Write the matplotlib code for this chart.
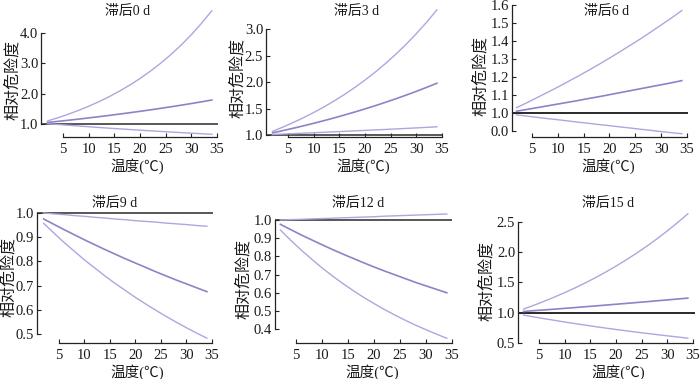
import matplotlib
matplotlib.use('Agg')
import matplotlib.pyplot as plt

plt.rcParams['font.family'] = ['Liberation Serif', 'Noto Sans CJK SC']

# ---- data ----
temp = [2, 4, 6, 8, 10, 12, 14, 16, 18, 20, 22, 24, 26, 28, 30, 32, 34]
titles = ['滞后0 d', '滞后3 d', '滞后6 d', '滞后9 d', '滞后12 d', '滞后15 d']
xlabel = '温度(℃)'
ylabel = '相对危险度'
xticks = [5, 10, 15, 20, 25, 30, 35]

lag0_hi = [1.10, 1.205, 1.320, 1.446, 1.584, 1.736, 1.901, 2.083, 2.282,
           2.500, 2.739, 3.000, 3.287, 3.601, 3.945, 4.322, 4.735]
lag0_rr = [1.05, 1.086, 1.122, 1.160, 1.200, 1.240, 1.282, 1.326, 1.371,
           1.417, 1.465, 1.515, 1.566, 1.619, 1.674, 1.731, 1.79]
lag0_lo = [1.01, 0.984, 0.958, 0.933, 0.908, 0.884, 0.861, 0.839, 0.817,
           0.795, 0.774, 0.754, 0.734, 0.715, 0.696, 0.678, 0.660]

lag3_hi = [1.07, 1.149, 1.235, 1.326, 1.425, 1.530, 1.644, 1.766, 1.897,
           2.038, 2.189, 2.351, 2.526, 2.713, 2.915, 3.131, 3.363]
lag3_rr = [1.04, 1.083, 1.127, 1.173, 1.221, 1.271, 1.323, 1.378, 1.434,
           1.493, 1.554, 1.618, 1.684, 1.753, 1.825, 1.900, 1.978]
lag3_lo = [1.010, 1.018, 1.026, 1.034, 1.043, 1.051, 1.060, 1.069, 1.078,
           1.087, 1.096, 1.105, 1.114, 1.124, 1.134, 1.144, 1.155]

lag6_hi = [1.03, 1.057, 1.086, 1.115, 1.144, 1.175, 1.206, 1.238, 1.271,
           1.305, 1.340, 1.376, 1.412, 1.450, 1.489, 1.528, 1.569]
lag6_rr = [1.01, 1.020, 1.030, 1.040, 1.050, 1.060, 1.070, 1.081, 1.091,
           1.102, 1.113, 1.124, 1.135, 1.146, 1.157, 1.168, 1.18]
lag6_lo = [0.99, 0.983, 0.976, 0.969, 0.963, 0.956, 0.949, 0.943, 0.936,
           0.930, 0.923, 0.917, 0.910, 0.904, 0.897, 0.891, 0.885]

lag9_hi = [1.000, 0.996, 0.993, 0.989, 0.986, 0.982, 0.979, 0.975, 0.972,
           0.968, 0.965, 0.962, 0.958, 0.955, 0.952, 0.948, 0.945]
lag9_rr = [0.975, 0.953, 0.931, 0.910, 0.889, 0.869, 0.849, 0.830, 0.811,
           0.793, 0.775, 0.757, 0.740, 0.723, 0.707, 0.691, 0.675]
lag9_lo = [0.957, 0.917, 0.878, 0.842, 0.806, 0.773, 0.740, 0.709, 0.680,
           0.651, 0.624, 0.598, 0.573, 0.549, 0.526, 0.504, 0.483]

lag12_hi = [1.000, 1.002, 1.004, 1.006, 1.008, 1.010, 1.012, 1.014, 1.016,
            1.018, 1.021, 1.023, 1.025, 1.027, 1.029, 1.031, 1.033]
lag12_rr = [0.976, 0.947, 0.918, 0.891, 0.864, 0.838, 0.813, 0.789, 0.765,
            0.742, 0.720, 0.699, 0.678, 0.657, 0.638, 0.619, 0.600]
lag12_lo = [0.945, 0.888, 0.835, 0.785, 0.737, 0.693, 0.651, 0.612, 0.575,
            0.541, 0.508, 0.478, 0.449, 0.422, 0.397, 0.373, 0.350]

lag15_hi = [1.06, 1.122, 1.188, 1.257, 1.330, 1.408, 1.490, 1.577, 1.670,
            1.767, 1.871, 1.980, 2.096, 2.218, 2.348, 2.485, 2.630]
lag15_rr = [1.02, 1.033, 1.045, 1.058, 1.071, 1.084, 1.098, 1.111, 1.125,
            1.139, 1.153, 1.167, 1.181, 1.196, 1.210, 1.225, 1.240]
lag15_lo = [0.96, 0.930, 0.901, 0.874, 0.846, 0.820, 0.795, 0.770, 0.746,
            0.723, 0.701, 0.679, 0.658, 0.638, 0.618, 0.599, 0.580]

yticks0 = [1.0, 2.0, 3.0, 4.0]
yticks3 = [1.0, 1.5, 2.0, 2.5, 3.0]
yticks6 = [0.9, 1.0, 1.1, 1.2, 1.3, 1.4, 1.5, 1.6]
ylabels6 = ['0.0', '1.0', '1.1', '1.2', '1.3', '1.4', '1.5', '1.6']
yticks9 = [0.5, 0.6, 0.7, 0.8, 0.9, 1.0]
yticks12 = [0.4, 0.5, 0.6, 0.7, 0.8, 0.9, 1.0]
yticks15 = [0.5, 1.0, 1.5, 2.0, 2.5]

series = [
    (lag0_hi, lag0_rr, lag0_lo, yticks0, None),
    (lag3_hi, lag3_rr, lag3_lo, yticks3, None),
    (lag6_hi, lag6_rr, lag6_lo, yticks6, ylabels6),
    (lag9_hi, lag9_rr, lag9_lo, yticks9, None),
    (lag12_hi, lag12_rr, lag12_lo, yticks12, None),
    (lag15_hi, lag15_rr, lag15_lo, yticks15, None),
]

# ---- layout (pixels) ----
W, H = 700, 379
layout = [
    dict(box=(41, 218, 10, 137), xlim=(0.71, 35.2), ylim=(0.57, 4.76),
         title=(128, 11), xl=(137, 166), yl=(13, 80)),
    dict(box=(266, 442, 8, 137), xlim=(0.71, 35.0), ylim=(0.962, 3.40),
         title=(357, 11), xl=(363, 166), yl=(238, 78)),
    dict(box=(512, 688, 5, 137), xlim=(1.13, 35.2), ylim=(0.867, 1.6),
         title=(607, 11), xl=(608, 166), yl=(481, 76)),
    dict(box=(37, 213, 211, 343), xlim=(0.69, 35.2), ylim=(0.463, 1.008),
         title=(115, 203), xl=(137, 372), yl=(9, 277)),
    dict(box=(275, 452, 212, 343), xlim=(0.96, 35.0), ylim=(0.324, 1.044),
         title=(358, 203), xl=(372, 372), yl=(244, 279)),
    dict(box=(518, 695, 212, 343.3), xlim=(0.91, 35.4), ylim=(0.495, 2.66),
         title=(608, 203), xl=(618, 372), yl=(487, 281)),
]

ci_color = '#aea6de'
rr_color = '#8c83c8'
ref_color = '#2a2a2a'
axis_color = '#222222'
text_color = '#1a1a1a'

fig = plt.figure(figsize=(W / 100, H / 100), dpi=100)

for i, (hi, rr, lo, yt, yls) in enumerate(series):
    lay = layout[i]
    l, r, t, b = lay['box']
    ax = fig.add_axes([l / W, 1 - b / H, (r - l) / W, (b - t) / H])
    ax.set_xlim(*lay['xlim'])
    ax.set_ylim(*lay['ylim'])
    ax.patch.set_alpha(0)
    ax.axhline(1.0, color=ref_color, lw=1.4 if i in (2, 5) else 1.1, zorder=2)
    ax.plot(temp, hi, color=ci_color, lw=1.0, clip_on=False, zorder=3)
    ax.plot(temp, rr, color=rr_color, lw=1.2, clip_on=False, zorder=3)
    ax.plot(temp, lo, color=ci_color, lw=1.0, clip_on=False, zorder=3)

    for s in ('top', 'right'):
        ax.spines[s].set_visible(False)
    for s in ('left', 'bottom'):
        ax.spines[s].set_color(axis_color)
        ax.spines[s].set_linewidth(0.9)
    ax.spines['left'].set_bounds(yt[0], yt[-1])
    ax.spines['bottom'].set_bounds(xticks[0], xticks[-1])

    ax.set_xticks(xticks)
    ax.set_xticklabels([str(v) for v in xticks])
    ax.set_yticks(yt)
    if yls is None:
        ax.set_yticklabels(['%.1f' % v for v in yt])
    else:
        ax.set_yticklabels(yls)
    ax.tick_params(axis='both', direction='in', length=3, width=0.8,
                   color=axis_color, labelsize=10.5, labelcolor=text_color)
    ax.tick_params(axis='x', pad=4)
    ax.tick_params(axis='y', pad=2)

    tx, ty = lay['title']
    fig.text(tx / W, 1 - ty / H, titles[i], ha='center', va='center',
             fontsize=10, color=text_color)
    xx, xy = lay['xl']
    fig.text(xx / W, 1 - xy / H, xlabel, ha='center', va='center',
             fontsize=10.5, color=text_color)
    yx, yy = lay['yl']
    fig.text(yx / W, 1 - yy / H, ylabel, ha='center', va='center',
             rotation=90, fontsize=11.5, color=text_color)

fig.savefig('out.png', dpi=100)
